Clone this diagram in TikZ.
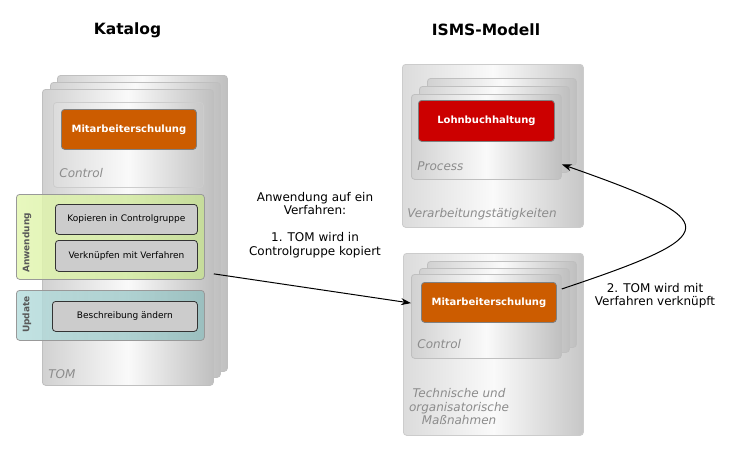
\documentclass[tikz,border=0pt]{standalone}
\usepackage{fontspec}
\setmainfont{DejaVu Sans}
\usetikzlibrary{arrows.meta}
\definecolor{tomorange}{RGB}{204,92,0}
\definecolor{procred}{RGB}{204,0,0}
\definecolor{anwL}{RGB}{228,247,178}
\definecolor{anwR}{RGB}{198,224,148}
\definecolor{updL}{RGB}{184,222,222}
\definecolor{updR}{RGB}{148,190,190}

\begin{document}
\begin{tikzpicture}[x=1pt,y=-1pt,line width=0.8pt,
	stack/.style={draw=black!25, rounded corners=0.6ex, left color=black!18, right color=black!25, middle color=black!2, anchor=north west, inner sep=0pt},
	group/.style={draw=black!20, rounded corners=0.6ex, left color=black!14, right color=black!22, middle color=black!2, anchor=north west, inner sep=0pt},
	item/.style={draw=black!50, rounded corners=0.6ex, text=white, font=\fontsize{10}{12}\selectfont\bfseries, anchor=north west, inner sep=0pt},
	action/.style={draw=black!80, rounded corners=0.6ex, fill=black!20, font=\fontsize{9}{11}\selectfont, anchor=north west, inner sep=0pt},
	band/.style={draw=black!40, rounded corners=0.6ex, fill opacity=0.85, anchor=north west, inner sep=0pt},
	bandlabel/.style={rotate=90, text=black!65, font=\fontsize{9}{11}\selectfont\bfseries},
	caption/.style={text=black!45, font=\fontsize{12}{13.5}\selectfont\itshape, anchor=base west, inner sep=0pt},
	note/.style={align=center, font=\fontsize{12}{13.5}\selectfont},
	title/.style={font=\fontsize{15.5}{18}\selectfont\bfseries}]
	\useasboundingbox (0,0) rectangle (733,450);
	\node[title] (K) at (127.5,30) {Katalog};
	\node[title] (M) at (486,30) {ISMS-Modell};
	% Katalog: TOM
	\node[stack, minimum width=170, minimum height=296] (tomC) at (57,75) {};
	\node[stack, minimum width=170, minimum height=295] (tomB) at (50,82) {};
	\node[stack, minimum width=171, minimum height=296] (tomA) at (42,89) {};
	\node[group, minimum width=150, minimum height=85] (ctrlK) at (53,102) {};
	\node[item, fill=tomorange, minimum width=135, minimum height=40] (mitK) at (61,109) {Mitarbeiterschulung};
	\node[caption] (ctrlKL) at (59,177) {Control};
	\node[caption] (tomL) at (48,378) {TOM};
	\node[band, left color=anwL, right color=anwR, minimum width=188, minimum height=85] (anw) at (16,194) {};
	\node[bandlabel] (anwL) at (27,243) {Anwendung};
	\node[action, minimum width=142, minimum height=30] (kop) at (55,204) {Kopieren in Controlgruppe};
	\node[action, minimum width=142, minimum height=31] (ver) at (55,240) {Verknüpfen mit Verfahren};
	\node[band, left color=updL, right color=updR, minimum width=188, minimum height=50] (upd) at (16,290) {};
	\node[bandlabel] (updL) at (27,314.5) {Update};
	\node[action, minimum width=145, minimum height=30] (bes) at (52,301) {Beschreibung ändern};
	% ISMS-Modell: Verarbeitungstaetigkeiten
	\node[group, minimum width=181, minimum height=163] (vt) at (402,64) {};
	\node[stack, minimum width=149, minimum height=87] (procC) at (427,78) {};
	\node[stack, minimum width=150, minimum height=86] (procB) at (419,86) {};
	\node[stack, minimum width=150, minimum height=85] (procA) at (411,94) {};
	\node[item, fill=procred, minimum width=136, minimum height=41] (lohn) at (418,100) {Lohnbuchhaltung};
	\node[caption] (procL) at (417,170) {Process};
	\node[caption] (vtL) at (407,217) {Verarbeitungstätigkeiten};
	% ISMS-Modell: TOM
	\node[group, minimum width=180, minimum height=182] (tm) at (403,253) {};
	\node[stack, minimum width=149, minimum height=86] (ctrlC) at (427,261) {};
	\node[stack, minimum width=150, minimum height=84] (ctrlB) at (419,268) {};
	\node[stack, minimum width=150, minimum height=84] (ctrlA) at (411,274) {};
	\node[item, fill=tomorange, minimum width=135, minimum height=40] (mitM) at (421,282) {Mitarbeiterschulung};
	\node[caption] (ctrlML) at (417,348) {Control};
	\node[caption, anchor=center, align=center] (tmL) at (459,407) {Technische und\\organisatorische\\Maßnahmen};
	% Pfeile
	\draw[line width=1pt, -{Stealth[length=10pt,width=7pt]}] (tomA.-23) -- (ctrlA.170);
	\draw[line width=1pt, -{Stealth[length=10pt,width=7pt]}] (ctrlA.20) .. controls (726,234) and (726,222) .. (procA.-20);
	\node[note] (n1) at (315,225) {Anwendung auf ein\\Verfahren:\\[13.5pt]1. TOM wird in\\Controlgruppe kopiert};
	\node[note] (n2) at (655,295.5) {2. TOM wird mit\\Verfahren verknüpft};
\end{tikzpicture}
\end{document}
